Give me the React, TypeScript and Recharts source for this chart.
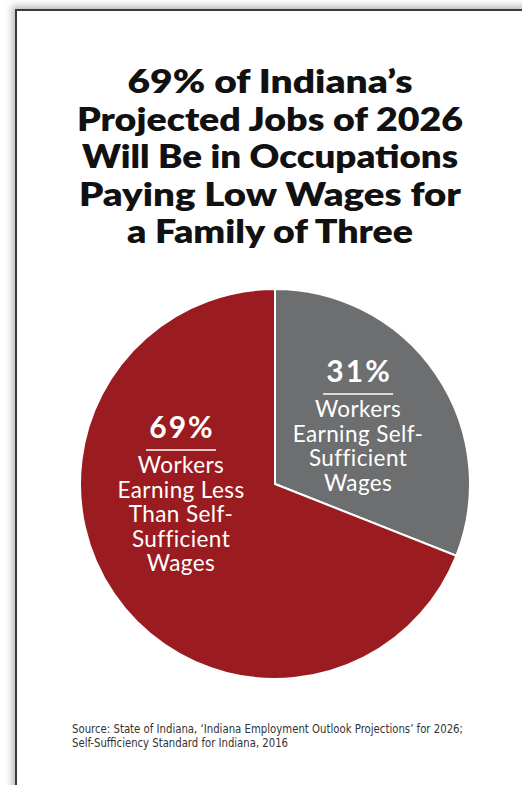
import React from "react";
import { PieChart, Pie, Cell } from "recharts";

const TITLE_LINES = [
  "69% of Indiana\u2019s",
  "Projected Jobs of 2026",
  "Will Be in Occupations",
  "Paying Low Wages for",
  "a Family of Three",
];
const TITLE_WIDTHS = [285, 386, 376, 382, 286];

const CATEGORIES = [
  "Workers Earning Self-Sufficient Wages",
  "Workers Earning Less Than Self-Sufficient Wages",
];
const VALUES = [31, 69];
const COLORS = ["#6d6e70", "#9b1c20"];
const LABEL_LINES = [
  ["Workers", "Earning Self-", "Sufficient", "Wages"],
  ["Workers", "Earning Less", "Than Self-", "Sufficient", "Wages"],
];
const SOURCE_LINES = [
  "Source: State of Indiana, \u2018Indiana Employment Outlook Projections\u2019 for 2026;",
  "Self-Sufficiency Standard for Indiana, 2016",
];
const SOURCE_WIDTHS = [391, 216];

const data = CATEGORIES.map((name, i) => ({ name, value: VALUES[i] }));

// label anchor (percent baseline) as fraction of outer radius
const LABEL_ANCHOR = [
  { fx: 0.426, fy: -0.523 },
  { fx: -0.482, fy: -0.236 },
];

const FONT = "Lato, 'Open Sans', 'DejaVu Sans', sans-serif";

const renderLabel = (props: any) => {
  const cx = Number(props.cx);
  const cy = Number(props.cy);
  const r = Number(props.outerRadius);
  const i = props.index as number;
  const a = LABEL_ANCHOR[i];
  const x = cx + a.fx * r;
  const y = cy + a.fy * r;
  const lines = LABEL_LINES[i];
  return (
    <g key={`lbl-${i}`}>
      <text
        x={x + 1}
        y={y}
        textAnchor="middle"
        fill="#ffffff"
        fontFamily={FONT}
        fontWeight={700}
        fontSize={30}
        letterSpacing={2}
      >
        {`${VALUES[i]}%`}
      </text>
      <line x1={x - 35} x2={x + 35} y1={y + 12} y2={y + 12} stroke="#ffffff" strokeWidth={1.5} />
      {lines.map((ln, k) => (
        <text
          key={k}
          x={x}
          y={y + 35 + k * 24.6}
          textAnchor="middle"
          fill="#ffffff"
          fontFamily={FONT}
          fontWeight={400}
          fontSize={22.5}
          letterSpacing={0.4}
        >
          {ln}
        </text>
      ))}
    </g>
  );
};

export default function App() {
  return (
    <div
      style={{
        position: "absolute",
        left: 0,
        top: 0,
        width: 522,
        height: 785,
        overflow: "hidden",
        background: "#ffffff",
      }}
    >
      <div
        style={{
          position: "absolute",
          left: 15,
          top: 9,
          width: 620,
          height: 900,
          border: "2px solid #3a3a3a",
          boxShadow: "-3px -3px 7px rgba(0,0,0,0.28)",
          background: "#ffffff",
        }}
      />
      <div style={{ position: "absolute", left: 0, top: 0 }}>
        <PieChart width={522} height={785}>
          <Pie
            data={data}
            dataKey="value"
            nameKey="name"
            cx={270}
            cy={479}
            outerRadius={195}
            startAngle={90}
            endAngle={-270}
            stroke="#ffffff"
            strokeWidth={2}
            label={renderLabel}
            labelLine={false}
            isAnimationActive={false}
          >
            {data.map((d, i) => (
              <Cell key={d.name} fill={COLORS[i]} />
            ))}
          </Pie>
        </PieChart>
      </div>
      <svg
        width={522}
        height={785}
        style={{ position: "absolute", left: 0, top: 0, pointerEvents: "none" }}
      >
        {TITLE_LINES.map((t, i) => (
          <text
            key={i}
            x={270}
            y={93 + i * 37.5}
            textAnchor="middle"
            fontFamily={FONT}
            fontWeight={800}
            fontSize={32}
            fill="#111111"
            textLength={TITLE_WIDTHS[i]}
            lengthAdjust="spacingAndGlyphs"
          >
            {t}
          </text>
        ))}
        {SOURCE_LINES.map((t, i) => (
          <text
            key={i}
            x={72}
            y={733 + i * 13.5}
            fontFamily="'Liberation Sans Narrow', 'DejaVu Sans Condensed', sans-serif"
            fontSize={12.5}
            fill="#333333"
            textLength={SOURCE_WIDTHS[i]}
            lengthAdjust="spacingAndGlyphs"
          >
            {t}
          </text>
        ))}
      </svg>
    </div>
  );
}
